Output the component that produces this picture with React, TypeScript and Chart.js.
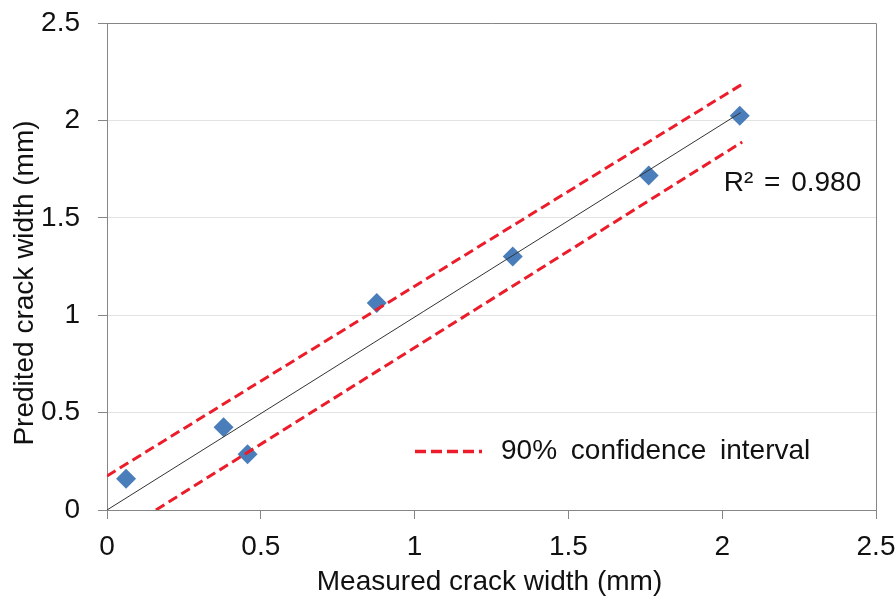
import React, { useEffect, useRef } from "react";
import { Chart, registerables } from "chart.js";

Chart.register(...registerables);

// Measured vs predicted crack widths (mm)
const measured = [0.062, 0.379, 0.457, 0.877, 1.319, 1.761, 2.057];
const predicted = [0.16, 0.425, 0.286, 1.062, 1.301, 1.717, 2.024];

// Fit line end points
const fitX = [0, 2.06];
const fitY = [0, 2.04];

// 90% confidence interval bounds
const upperX = [0, 2.062];
const upperY = [0.175, 2.183];
const lowerX = [0.159, 2.065];
const lowerY = [0, 1.889];

const xTicks = [0, 0.5, 1, 1.5, 2, 2.5];
const xTickLabels = ["0", "0.5", "1", "1.5", "2", "2.5"];
const yTicks = [0, 0.5, 1, 1.5, 2, 2.5];
const yTickLabels = ["0", "0.5", "1", "1.5", "2", "2.5"];

const xTitle = "Measured crack width (mm)";
const yTitle = "Predited crack width (mm)";
const legendLabel = "90% confidence interval";
const r2Label = "R\u00B2 = 0.980";

const FONT = "Arial, 'Liberation Sans', sans-serif";
const RED = "#ec1c2a";
const BLUE = "#4a7ebb";
const AXIS = "#868686";

const toPts = (xs: number[], ys: number[]) => xs.map((x, i) => ({ x, y: ys[i] }));

const overlay = {
  id: "overlay",
  beforeDatasetsDraw(chart: any) {
    const { ctx, chartArea } = chart;
    ctx.save();
    ctx.strokeStyle = AXIS;
    ctx.lineWidth = 1;
    ctx.beginPath();
    ctx.moveTo(chartArea.left, chartArea.top + 0.5);
    ctx.lineTo(chartArea.right + 0.5, chartArea.top + 0.5);
    ctx.lineTo(chartArea.right + 0.5, chartArea.bottom);
    ctx.stroke();
    ctx.restore();
  },
  afterDraw(chart: any) {
    const { ctx, chartArea, scales } = chart;
    const xs = scales.x;
    const ys = scales.y;
    ctx.save();
    ctx.fillStyle = "#111";
    ctx.font = `28px ${FONT}`;
    ctx.textBaseline = "middle";
    // legend
    ctx.strokeStyle = RED;
    ctx.lineWidth = 3.5;
    ctx.setLineDash([11, 5]);
    ctx.beginPath();
    ctx.moveTo(415, 451.5);
    ctx.lineTo(482, 451.5);
    ctx.stroke();
    ctx.setLineDash([]);
    ctx.textAlign = "left";
    (ctx as any).wordSpacing = "6px";
    ctx.fillText(legendLabel, 501, 451);
    // R2
    (ctx as any).wordSpacing = "3px";
    ctx.fillText(r2Label, xs.getPixelForValue(2.005), ys.getPixelForValue(1.675));
    (ctx as any).wordSpacing = "0px";
    // axis titles
    ctx.textAlign = "center";
    ctx.fillText(xTitle, (chartArea.left + chartArea.right) / 2 - 2, 582);
    ctx.translate(25, 283);
    ctx.rotate(-Math.PI / 2);
    ctx.fillText(yTitle, 0, 0);
    ctx.restore();
  },
};

export default function App() {
  const ref = useRef<HTMLCanvasElement>(null);
  useEffect(() => {
    if (!ref.current) return;
    const chart = new Chart(ref.current, {
      type: "scatter",
      data: {
        datasets: [
          {
            label: "upper",
            data: toPts(upperX, upperY),
            showLine: true,
            borderColor: RED,
            borderWidth: 3,
            borderDash: [10, 5],
            pointRadius: 0,
          },
          {
            label: "lower",
            data: toPts(lowerX, lowerY),
            showLine: true,
            borderColor: RED,
            borderWidth: 3,
            borderDash: [10, 5],
            pointRadius: 0,
          },
          {
            label: "fit",
            data: toPts(fitX, fitY),
            showLine: true,
            borderColor: "#333",
            borderWidth: 1,
            pointRadius: 0,
          },
          {
            label: "data",
            data: toPts(measured, predicted),
            pointStyle: "rectRot",
            pointRadius: 10,
            backgroundColor: BLUE,
            borderColor: BLUE,
            borderWidth: 0,
          },
        ],
      },
      options: {
        responsive: false,
        animation: false,
        layout: { autoPadding: false, padding: { top: 23, right: 20, bottom: 0, left: 0 } },
        plugins: { legend: { display: false }, tooltip: { enabled: false } },
        scales: {
          x: {
            type: "linear",
            min: 0,
            max: 2.5,
            afterFit: (s: any) => {
              s.height = 93;
              s.paddingLeft = 0;
              s.paddingRight = 0;
              if (s._margins) {
                s._margins.left = 0;
                s._margins.right = 0;
              }
            },
            afterBuildTicks: (s: any) => {
              s.ticks = xTicks.map((v) => ({ value: v }));
            },
            border: { color: AXIS, width: 1 },
            grid: {
              drawOnChartArea: false,
              tickColor: AXIS,
              tickLength: 9,
            },
            ticks: {
              color: "#111",
              font: { family: FONT, size: 28 },
              padding: 11,
              maxRotation: 0,
              callback: (_v: any, i: number) => xTickLabels[i],
            },
          },
          y: {
            type: "linear",
            min: 0,
            max: 2.5,
            afterFit: (s: any) => {
              s.width = 107;
              s.paddingTop = 0;
              s.paddingBottom = 0;
              if (s._margins) {
                s._margins.top = 0;
                s._margins.bottom = 0;
              }
            },
            afterBuildTicks: (s: any) => {
              s.ticks = yTicks.map((v) => ({ value: v }));
            },
            border: { color: AXIS, width: 1 },
            grid: {
              color: "#e3e3e3",
              tickColor: AXIS,
              tickLength: 9,
            },
            ticks: {
              color: "#111",
              font: { family: FONT, size: 28 },
              padding: 18,
              callback: (_v: any, i: number) => yTickLabels[i],
            },
          },
        },
      },
      plugins: [overlay],
    } as any);
    return () => chart.destroy();
  }, []);
  return (
    <div style={{ position: "absolute", left: 0, top: 0, width: 896, height: 603, background: "#fff" }}>
      <canvas ref={ref} width={896} height={603} />
    </div>
  );
}
